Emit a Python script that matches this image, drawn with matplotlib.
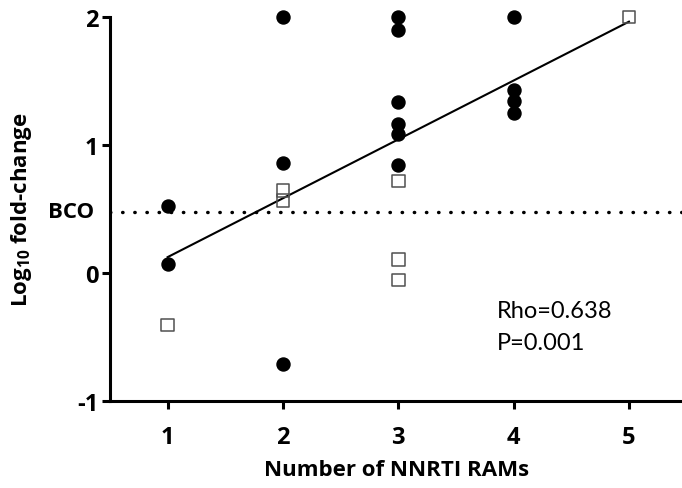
import numpy as np
import matplotlib
matplotlib.use("Agg")
import matplotlib.pyplot as plt

plt.rcParams['font.family'] = ['Open Sans', 'DejaVu Sans']
plt.rcParams['mathtext.fontset'] = 'custom'
plt.rcParams['mathtext.rm'] = 'Open Sans:bold'
plt.rcParams['mathtext.bf'] = 'Open Sans:bold'

# filled circles
circle_x = [1, 1, 2, 2, 2, 3, 3, 3, 3, 3, 3, 4, 4, 4, 4]
circle_y = [0.527, 0.07, 2.0, 0.862, -0.708,
            2.0, 1.898, 1.337, 1.167, 1.084, 0.841,
            2.0, 1.428, 1.345, 1.251]

# open squares
square_x = [1, 2, 2, 3, 3, 3, 5]
square_y = [-0.407, 0.645, 0.567, 0.718, 0.104, -0.055, 2.0]

bco = np.log10(3)
rho_text = "Rho=0.638"
p_text = "P=0.001"

# linear fit over all points
all_x = np.array(circle_x + square_x)
all_y = np.array(circle_y + square_y)
slope, intercept = np.polyfit(all_x, all_y, 1)
fit_x = np.array([1, 5])
fit_y = slope * fit_x + intercept

fig = plt.figure(figsize=(6.82, 4.89), dpi=100)
ax = fig.add_axes([0.1613, 0.178, 0.8387, 0.785])

ax.axhline(bco, color='black', lw=2.5, ls=(0, (0.1, 3.4)), dash_capstyle='round', zorder=1)
ax.plot(fit_x, fit_y, color='black', lw=1.5, zorder=2)
ax.scatter(circle_x, circle_y, s=88, color='black', zorder=3, clip_on=False)
ax.scatter(square_x, square_y, s=80, marker='s', facecolor='none',
           edgecolor='#505050', linewidth=1.1, zorder=3, clip_on=False)

ax.set_xlim(0.5, 5.46)
ax.set_ylim(-1, 2)
ax.set_xticks([1, 2, 3, 4, 5])
ax.set_yticks([-1, 0, 1, 2])
ax.set_yticklabels(['-1', '0', '1', '2'])

for s in ['top', 'right']:
    ax.spines[s].set_visible(False)
for s in ['left', 'bottom']:
    ax.spines[s].set_linewidth(2.2)
ax.tick_params(width=2.2, length=5.5, labelsize=17)
ax.tick_params(axis='y', pad=3)
ax.tick_params(axis='x', pad=12)
for lab in ax.get_xticklabels() + ax.get_yticklabels():
    lab.set_fontweight('bold')

ax.set_xlabel('Number of NNRTI RAMs', fontsize=16, fontweight='bold')
ax.xaxis.set_label_coords(397 / 682, 1 - 471 / 489, transform=fig.transFigure)
ax.xaxis.label.set_va('center')
ax.set_ylabel(r'Log$_{\mathbf{10}}$ fold-change', fontsize=16, fontweight='bold')
ax.yaxis.set_label_coords(22 / 682, 1 - 210 / 489, transform=fig.transFigure)
ax.yaxis.label.set_va('center')

fig.text(71 / 682, 1 - 213 / 489, 'BCO', fontsize=16, fontweight='bold',
         va='center', ha='center')
fig.text(497 / 682, 1 - 312 / 489, rho_text, fontsize=17, va='center', ha='left',
         family=['Lato', 'DejaVu Sans'])
fig.text(497 / 682, 1 - 344 / 489, p_text, fontsize=17, va='center', ha='left',
         family=['Lato', 'DejaVu Sans'])

fig.savefig('out.png', dpi=100)
